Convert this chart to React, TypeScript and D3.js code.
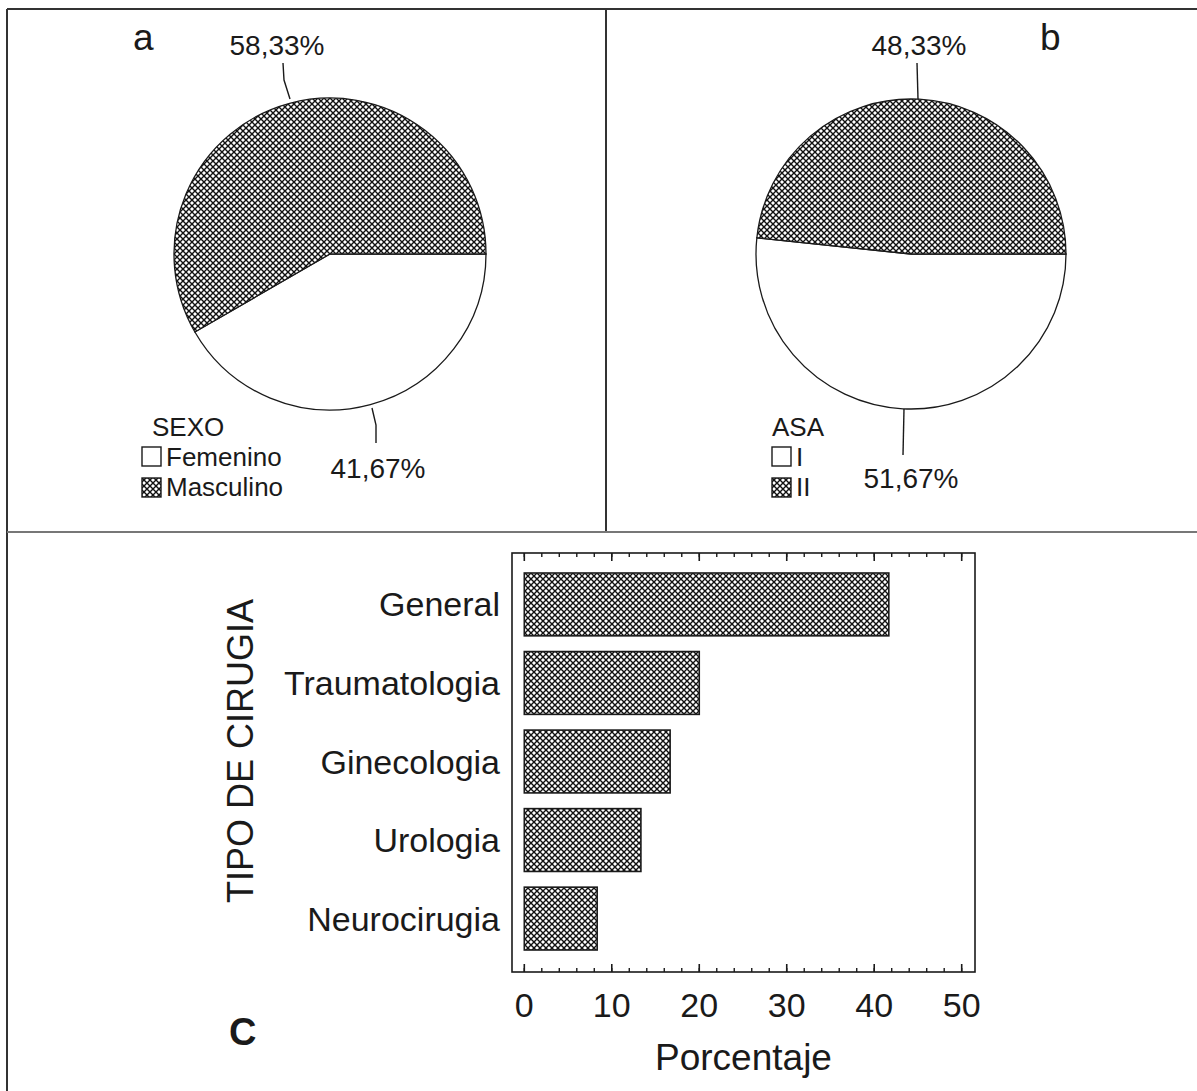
import * as d3 from "d3";

// panel a: sexo
const sexoLabels = ["Femenino", "Masculino"];
const sexoValues = [41.67, 58.33];
// panel b: ASA
const asaLabels = ["I", "II"];
const asaValues = [51.67, 48.33];
// panel c: tipo de cirugia
const cirugias = ["General", "Traumatologia", "Ginecologia", "Urologia", "Neurocirugia"];
const cirugiaValues = [41.67, 20.0, 16.67, 13.33, 8.33];
const xTicks = [0, 10, 20, 30, 40, 50];

const W = 1197;
const H = 1091;
const FONT = "'Liberation Sans', Arial, sans-serif";
const INK = "#1a1a1a";

const fmt = (v: number) => v.toFixed(2).replace(".", ",") + "%";

function Pie({ cx, cy, r, values, labels, title, titleDx, legendX, legendY, leaders }: {
  cx: number; cy: number; r: number; values: number[]; labels: string[]; title: string; titleDx: number;
  legendX: number; legendY: number;
  leaders: { pts: [number, number][]; tx: number; ty: number }[];
}) {
  const pie = d3.pie<number>().sort(null).startAngle(Math.PI / 2).endAngle(Math.PI / 2 + 2 * Math.PI);
  const arc = d3.arc<d3.PieArcDatum<number>>().innerRadius(0).outerRadius(r);
  const arcs = pie(values);
  const fills = ["#fff", "url(#hatch)"];
  const line = d3.line();
  return (
    <g>
      <g transform={`translate(${cx},${cy})`}>
        {arcs.map((a, i) => (
          <path key={i} d={arc(a) || ""} fill={fills[i]} stroke={INK} strokeWidth={1.3} />
        ))}
      </g>
      {leaders.map((l, i) => (
        <g key={i}>
          <path d={line(l.pts) || ""} fill="none" stroke={INK} strokeWidth={1.4} />
          <text x={l.tx} y={l.ty} textAnchor="middle" fontSize={28} fill={INK}>{fmt(values[i === 0 ? 1 : 0])}</text>
        </g>
      ))}
      <text x={legendX + titleDx} y={legendY} fontSize={26} fill={INK}>{title}</text>
      {labels.map((lab, i) => (
        <g key={lab}>
          <rect x={legendX} y={legendY + 11 + i * 31} width={19} height={19} fill={fills[i]} stroke={INK} strokeWidth={1.4} />
          <text x={legendX + 24} y={legendY + 30 + i * 30} fontSize={26} fill={INK}>{lab}</text>
        </g>
      ))}
    </g>
  );
}

function Bars() {
  const x = d3.scaleLinear().domain([0, 50]).range([524.3, 961.7]);
  const y = d3.scaleBand().domain(cirugias).range([573, 950]).paddingInner(0.2).paddingOuter(0);
  const frame = { l: 512, r: 975, t: 553, b: 972 };
  const minor = d3.range(0, 51, 2);
  return (
    <g>
      <rect x={frame.l} y={frame.t} width={frame.r - frame.l} height={frame.b - frame.t} fill="none" stroke={INK} strokeWidth={1.6} />
      {minor.map((v) => (
        <g key={v}>
          <line x1={x(v)} x2={x(v)} y1={frame.b} y2={frame.b - 4} stroke={INK} strokeWidth={1.4} />
          <line x1={x(v)} x2={x(v)} y1={frame.t} y2={frame.t + 4} stroke={INK} strokeWidth={1.4} />
        </g>
      ))}
      {xTicks.map((v) => (
        <g key={v}>
          <line x1={x(v)} x2={x(v)} y1={frame.b} y2={frame.b - 8} stroke={INK} strokeWidth={1.6} />
          <line x1={x(v)} x2={x(v)} y1={frame.t} y2={frame.t + 8} stroke={INK} strokeWidth={1.6} />
          <text x={x(v)} y={1017} textAnchor="middle" fontSize={34} fill={INK}>{v}</text>
        </g>
      ))}
      {cirugias.map((c, i) => (
        <g key={c}>
          <rect x={x(0)} y={y(c)} width={x(cirugiaValues[i]) - x(0)} height={y.bandwidth()} fill="url(#hatch)" stroke={INK} strokeWidth={1.6} />
          <text x={500} y={(y(c) || 0) + y.bandwidth() / 2 + 12} textAnchor="end" fontSize={34} fill={INK}>{c}</text>
        </g>
      ))}
      <text x={(frame.l + frame.r) / 2} y={1070} textAnchor="middle" fontSize={37} fill={INK}>Porcentaje</text>
      <text transform="translate(253,751) rotate(-90)" textAnchor="middle" fontSize={36} fill={INK}>TIPO DE CIRUGIA</text>
      <text x={229} y={1045} fontSize={38} fontWeight="bold" fill={INK}>C</text>
    </g>
  );
}

export default function App() {
  const divY = 532;
  return (
    <svg width={W} height={H} style={{ position: "absolute", left: 0, top: 0, background: "#fff" }} fontFamily={FONT}>
      <defs>
        <pattern id="hatch" width={6} height={6} patternUnits="userSpaceOnUse">
          <rect width={6} height={6} fill="#fff" />
          <path d="M0,0L6,6M6,0L0,6" stroke="#111" strokeWidth={1.4} />
        </pattern>
      </defs>
      <rect width={W} height={H} fill="#fff" />
      {/* table lines */}
      <line x1={7} x2={W} y1={9} y2={9} stroke="#333" strokeWidth={2} />
      <line x1={7} x2={7} y1={9} y2={H} stroke="#333" strokeWidth={2} />
      <line x1={606} x2={606} y1={9} y2={divY} stroke="#333" strokeWidth={2} />
      <line x1={7} x2={W} y1={divY} y2={divY} stroke="#777" strokeWidth={2} />

      <text x={133} y={50} fontSize={37} fill={INK}>a</text>
      <text x={1040} y={50} fontSize={37} fill={INK}>b</text>

      <Pie cx={330} cy={254} r={156} values={sexoValues} labels={sexoLabels} title="SEXO" titleDx={10}
        legendX={142} legendY={436}
        leaders={[
          { pts: [[283, 63], [284, 80], [290, 99]], tx: 277, ty: 55 },
          { pts: [[372, 408], [376, 425], [376, 443]], tx: 378, ty: 478 },
        ]} />
      <Pie cx={911} cy={254} r={155} values={asaValues} labels={asaLabels} title="ASA" titleDx={0}
        legendX={772} legendY={436}
        leaders={[
          { pts: [[917, 63], [918, 99]], tx: 919, ty: 55 },
          { pts: [[904, 409], [903, 455]], tx: 911, ty: 488 },
        ]} />
      <Bars />
    </svg>
  );
}
